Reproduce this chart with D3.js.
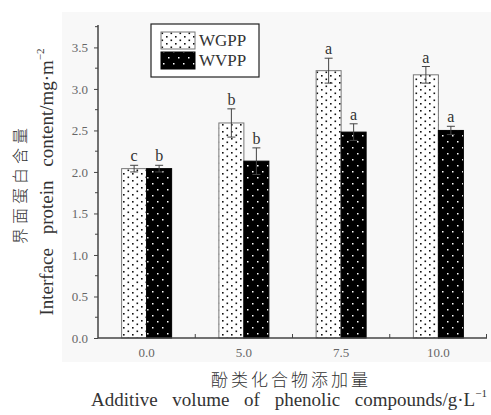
<!DOCTYPE html>
<html lang="zh">
<head>
<meta charset="utf-8">
<title>Interface protein content</title>
<script src="https://cdn.jsdelivr.net/npm/d3@7"></script>
<style>
  body { margin: 0; background: #fff; }
  svg text { font-family: 'Liberation Serif', 'DejaVu Serif', serif; }
  svg text.cjk { font-family: 'Noto Sans CJK SC', sans-serif; font-weight: 300; }
</style>
</head>
<body>
<script>
// data
var categories = ["0.0", "5.0", "7.5", "10.0"];
var seriesNames = ["WGPP", "WVPP"];
var wgpp = [2.04, 2.59, 3.22, 3.17];
var wvpp = [2.04, 2.13, 2.48, 2.50];
var wgppErr = [0.04, 0.17, 0.15, 0.10];
var wvppErr = [0.04, 0.16, 0.10, 0.05];
var wgppSig = ["c", "b", "a", "a"];
var wvppSig = ["b", "b", "a", "a"];
var yTicks = [0, 0.5, 1.0, 1.5, 2.0, 2.5, 3.0, 3.5];

var w = 491, h = 415;
var plotLeft = 98, plotRight = 487, plotTop = 25, plotBottom = 338;
var serif = "'Liberation Serif', serif";

var svg = d3.select("body").append("svg")
  .attr("width", w).attr("height", h);

// patterns
var defs = svg.append("defs");
var p1 = defs.append("pattern").attr("id", "dotsLight")
  .attr("patternUnits", "userSpaceOnUse").attr("width", 9).attr("height", 7);
p1.append("rect").attr("width", 9).attr("height", 7).attr("fill", "#fff");
[[1.5, 1.5], [6, 5]].forEach(function (d) {
  p1.append("rect").attr("x", d[0]).attr("y", d[1]).attr("width", 1.6).attr("height", 1.6).attr("fill", "#111");
});
var p2 = defs.append("pattern").attr("id", "dotsDark")
  .attr("patternUnits", "userSpaceOnUse").attr("width", 10).attr("height", 12);
p2.append("rect").attr("width", 10).attr("height", 12).attr("fill", "#000");
[[2, 3], [7, 9]].forEach(function (d) {
  p2.append("rect").attr("x", d[0]).attr("y", d[1]).attr("width", 1.5).attr("height", 1.5).attr("fill", "#fff");
});
var fills = ["url(#dotsLight)", "url(#dotsDark)"];

// background panel
svg.append("rect").attr("x", 62).attr("y", 12).attr("width", w - 62).attr("height", 350)
  .attr("fill", "#f8f8f8");

var x = d3.scaleBand().domain(categories).range([plotLeft, plotRight]).padding(0);
var xs = d3.scaleBand().domain(seriesNames).range([x.bandwidth() / 2 - 25, x.bandwidth() / 2 + 25]);
var y = d3.scaleLinear().domain([0, 3.77]).range([plotBottom, plotTop]);

var rows = categories.map(function (c, i) {
  return [
    { cat: c, s: "WGPP", v: wgpp[i], e: wgppErr[i], sig: wgppSig[i], k: 0 },
    { cat: c, s: "WVPP", v: wvpp[i], e: wvppErr[i], sig: wvppSig[i], k: 1 }
  ];
});
var flat = [].concat.apply([], rows);

// bars
svg.append("g").selectAll("rect").data(flat).enter().append("rect")
  .attr("x", function (d) { return x(d.cat) + xs(d.s); })
  .attr("y", function (d) { return y(d.v); })
  .attr("width", xs.bandwidth())
  .attr("height", function (d) { return plotBottom - y(d.v); })
  .attr("fill", function (d) { return fills[d.k]; })
  .attr("stroke", function (d) { return d.k ? "#000" : "#777"; })
  .attr("stroke-width", 1);

// error bars
var eg = svg.append("g").attr("stroke", "#444").attr("stroke-width", 1);
flat.forEach(function (d) {
  var cx = x(d.cat) + xs(d.s) + xs.bandwidth() / 2;
  eg.append("line").attr("x1", cx).attr("x2", cx).attr("y1", y(d.v - d.e)).attr("y2", y(d.v + d.e));
  eg.append("line").attr("x1", cx - 4).attr("x2", cx + 4).attr("y1", y(d.v + d.e)).attr("y2", y(d.v + d.e));
  eg.append("line").attr("x1", cx - 4).attr("x2", cx + 4).attr("y1", y(d.v - d.e)).attr("y2", y(d.v - d.e));
});

// significance letters
svg.append("g").selectAll("text").data(flat).enter().append("text")
  .attr("x", function (d) { return x(d.cat) + xs(d.s) + xs.bandwidth() / 2; })
  .attr("y", function (d) { return y(d.v + d.e) - 4; })
  .attr("text-anchor", "middle")
  .attr("font-size", 16)
  .attr("fill", "#333")
  .style("font-family", serif)
  .text(function (d) { return d.sig; });

// y axis
var yAxis = svg.append("g").attr("transform", "translate(" + plotLeft + ",0)")
  .call(d3.axisLeft(y).tickValues(yTicks).tickFormat(d3.format(".1f")).tickSize(4).tickPadding(6));
yAxis.attr("font-family", null);
yAxis.select(".domain").attr("d", "M0," + plotTop + "V" + plotBottom);
yAxis.selectAll(".tick line").attr("stroke", "#444");
yAxis.selectAll("text").attr("font-size", 13).attr("fill", "#666")
  .style("font-family", serif);
yAxis.selectAll(".minor").data(d3.range(0.25, 3.76, 0.5)).enter().append("line")
  .attr("class", "minor").attr("x1", -3).attr("x2", 0)
  .attr("y1", function (d) { return y(d); }).attr("y2", function (d) { return y(d); })
  .attr("stroke", "#444");

// x axis
var xAxis = svg.append("g").attr("transform", "translate(0," + plotBottom + ")")
  .call(d3.axisBottom(x).tickSize(0).tickPadding(10));
xAxis.attr("font-family", null);
xAxis.select(".domain").attr("d", "M" + plotLeft + ",0H" + plotRight);
xAxis.selectAll("text").attr("font-size", 13).attr("fill", "#666")
  .style("font-family", serif);
xAxis.selectAll(".sep").data(categories.slice(1).concat(["end"])).enter().append("line")
  .attr("class", "sep")
  .attr("x1", function (d, i) { return i < 3 ? x(d) : plotRight - 0.5; })
  .attr("x2", function (d, i) { return i < 3 ? x(d) : plotRight - 0.5; })
  .attr("y1", 0).attr("y2", -4).attr("stroke", "#444");
svg.selectAll(".domain").attr("stroke", "#444").attr("stroke-width", 1.5);

// legend
var lg = svg.append("g").attr("transform", "translate(151,24)");
lg.append("rect").attr("width", 108).attr("height", 53).attr("fill", "#fff")
  .attr("stroke", "#222").attr("stroke-width", 1.2);
seriesNames.forEach(function (s, i) {
  lg.append("rect").attr("x", 10).attr("y", 8 + i * 20).attr("width", 34).attr("height", 17)
    .attr("fill", fills[i]).attr("stroke", i ? "#000" : "#777");
  lg.append("text").attr("x", 48).attr("y", 22 + i * 20).attr("font-size", 17)
    .attr("fill", "#333").style("font-family", serif).text(s);
});

// y titles
svg.append("text").attr("class", "cjk")
  .attr("transform", "translate(26,184) rotate(-90)")
  .attr("text-anchor", "middle").attr("font-size", 16).attr("letter-spacing", 4)
  .attr("fill", "#333").text("界面蛋白含量");
var yt = svg.append("text")
  .attr("transform", "translate(53,182) rotate(-90)")
  .attr("text-anchor", "middle").attr("font-size", 19).attr("word-spacing", 9)
  .attr("fill", "#333").style("font-family", serif);
yt.append("tspan").text("Interface protein content/mg·m");
yt.append("tspan").attr("font-size", 11).attr("dy", -9).text("−2");

// x titles
svg.append("text").attr("class", "cjk")
  .attr("x", 291).attr("y", 386)
  .attr("text-anchor", "middle").attr("font-size", 17).attr("letter-spacing", 3)
  .attr("fill", "#333").text("酚类化合物添加量");
var xt = svg.append("text")
  .attr("x", 289).attr("y", 406)
  .attr("text-anchor", "middle").attr("font-size", 19).attr("word-spacing", 10)
  .attr("fill", "#333").style("font-family", serif);
xt.append("tspan").text("Additive volume of phenolic compounds/g·L");
xt.append("tspan").attr("font-size", 11).attr("dy", -9).text("−1");
</script>
</body>
</html>
